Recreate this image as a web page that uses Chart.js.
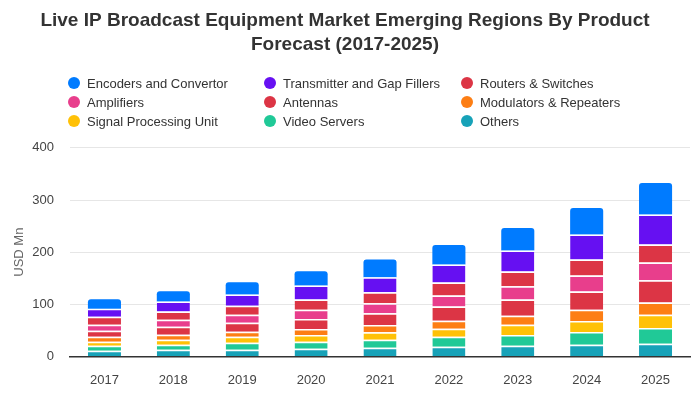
<!DOCTYPE html>
<html>
<head>
<meta charset="utf-8">
<script src="https://cdn.jsdelivr.net/npm/chart.js@4"></script>
<style>
  html, body { margin: 0; padding: 0; background: #fff; }
  #box { width: 700px; height: 400px; }
</style>
</head>
<body>
<div id="box"><canvas id="graph"></canvas></div>
<script>
const years = ['2017', '2018', '2019', '2020', '2021', '2022', '2023', '2024', '2025'];

const others       = [10.6, 12.8, 12.8, 14.7, 16.7, 18.6, 20.5, 22.4, 24.4];
const videoServers = [9.6, 9.6, 13.5, 13.5, 15.4, 19.2, 20.5, 24.4, 30.1];
const signalUnit   = [8.0, 9.7, 11.5, 12.8, 14.1, 15.4, 19.9, 21.1, 25.6];
const modulators   = [9.3, 9.6, 9.6, 11.6, 14.1, 15.4, 17.3, 21.8, 23.1];
const antennas     = [11.5, 15.4, 17.3, 19.2, 22.5, 26.9, 30.8, 34.7, 43.0];
const amplifiers   = [11.6, 13.4, 15.4, 17.9, 19.2, 21.2, 25.6, 30.7, 33.9];
const routers      = [15.4, 15.4, 17.3, 19.3, 21.2, 25.0, 28.2, 30.8, 34.6];
const transmitters = [15.3, 19.2, 21.2, 26.9, 28.8, 34.6, 40.4, 48.1, 57.7];
const encoders     = [18.3, 19.9, 23.7, 27.6, 34.0, 37.2, 43.0, 50.6, 60.3];

const yTicks = [0, 100, 200, 300, 400];

// bottom of the stack first
const series = [
    { label: 'Others', data: others, color: '#17a2b8' },
    { label: 'Video Servers', data: videoServers, color: '#20c997' },
    { label: 'Signal Processing Unit', data: signalUnit, color: '#ffc107' },
    { label: 'Modulators & Repeaters', data: modulators, color: '#fd7e14' },
    { label: 'Antennas', data: antennas, color: '#dc3545' },
    { label: 'Amplifiers', data: amplifiers, color: '#e83e8c' },
    { label: 'Routers & Switches', data: routers, color: '#dc3545' },
    { label: 'Transmitter and Gap Fillers', data: transmitters, color: '#6610f2' },
    { label: 'Encoders and Convertor', data: encoders, color: '#007bff' }
];

const FONT = '"Liberation Sans", Arial, sans-serif';

// legend in three columns, drawn under the title
const gridLegend = {
    id: 'gridLegend',
    afterDraw(chart) {
        const ctx = chart.ctx;
        const items = series.slice().reverse();
        const colX = [74, 270, 467];
        const rowY = [83, 102, 121];
        ctx.save();
        ctx.font = '13px ' + FONT;
        ctx.textBaseline = 'middle';
        items.forEach((s, i) => {
            const x = colX[i % 3];
            const y = rowY[Math.floor(i / 3)];
            ctx.fillStyle = s.color;
            ctx.beginPath();
            ctx.arc(x, y, 6, 0, Math.PI * 2);
            ctx.fill();
            ctx.fillStyle = '#333';
            ctx.fillText(s.label, x + 13, y + 1);
        });
        ctx.restore();
    }
};

const topIndex = series.length - 1;

const ctx = document.getElementById('graph').getContext('2d');
const myChart = new Chart(ctx, {
    type: 'bar',
    data: {
        labels: years,
        datasets: series.map((s, i) => ({
            label: s.label,
            data: s.data,
            backgroundColor: s.color,
            borderColor: '#ffffff',
            // the white top edge makes the gap under the segment above
            borderWidth: i === topIndex ? 0 : { top: 1.5, left: 0, right: 0, bottom: 0 },
            borderSkipped: 'bottom',
            borderRadius: i === topIndex ? { topLeft: 3, topRight: 3 } : 0,
            barPercentage: 0.6,
            categoryPercentage: 0.8
        }))
    },
    options: {
        responsive: true,
        maintainAspectRatio: false,
        animation: false,
        layout: { padding: { left: 0, right: 10, bottom: 4 } },
        plugins: {
            legend: { display: false },
            tooltip: { enabled: false },
            title: {
                display: true,
                text: ['Live IP Broadcast Equipment Market Emerging Regions By Product', 'Forecast (2017-2025)'],
                color: '#333',
                font: { family: FONT, size: 19, weight: 'bold', lineHeight: 1.26 },
                padding: { top: 9, bottom: 91 }
            }
        },
        scales: {
            x: {
                stacked: true,
                grid: { display: false },
                border: { color: '#333', width: 1.5 },
                ticks: { color: '#444', font: { family: FONT, size: 13 }, padding: 8 }
            },
            y: {
                stacked: true,
                min: 0,
                max: 400,
                afterBuildTicks: axis => { axis.ticks = yTicks.map(v => ({ value: v })); },
                afterFit: axis => { axis.width = 70; },
                grid: { color: '#e6e6e6', drawTicks: false },
                border: { display: false },
                ticks: { color: '#444', font: { family: FONT, size: 13 }, padding: 16 },
                title: {
                    display: true,
                    text: 'USD Mn',
                    color: '#666',
                    font: { family: FONT, size: 13 },
                    padding: { top: 12, bottom: 0 }
                }
            }
        }
    },
    plugins: [gridLegend]
});
</script>
</body>
</html>
